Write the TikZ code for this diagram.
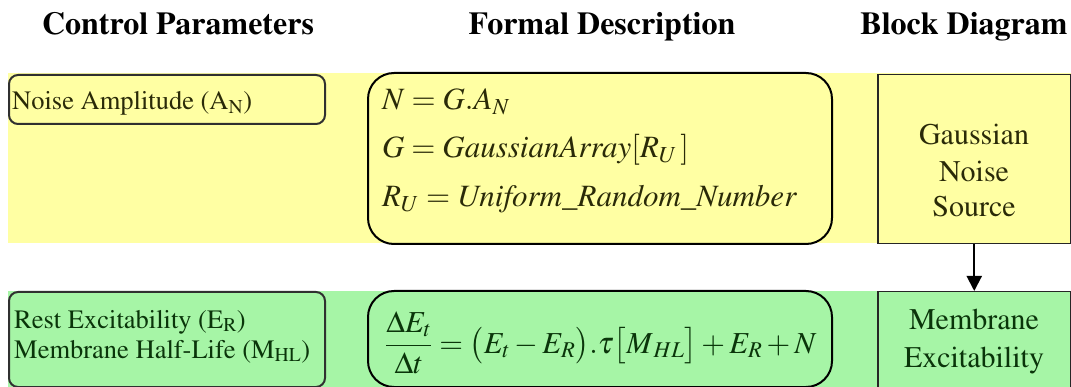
\documentclass[tikz,border=0pt]{standalone}
\usepackage[T1]{fontenc}
\usepackage{mathptmx}
\usetikzlibrary{arrows.meta}
\definecolor{yfill}{HTML}{FFFFA3}
\definecolor{gfill}{HTML}{A6F5A6}
\definecolor{ytext}{HTML}{2A2A08}
\definecolor{gtext}{HTML}{0A350A}
\definecolor{edge}{HTML}{303030}
\tikzset{
  heading/.style={anchor=base, inner sep=0pt, font=\fontsize{32}{38}\selectfont\bfseries},
  parbox/.style={draw=edge, line width=2pt, rounded corners=9pt, inner sep=0pt},
  fdbox/.style={draw=black, line width=2pt, rounded corners=26pt, inner sep=0pt},
  bdbox/.style={draw=black!85, line width=1.5pt, inner sep=0pt},
  ptext/.style={anchor=base west, inner sep=0pt, font=\fontsize{26.5}{30}\selectfont},
  ftext/.style={anchor=base west, inner sep=0pt, font=\fontsize{31}{36}\selectfont},
  etext/.style={anchor=base west, inner sep=0pt, font=\fontsize{30.5}{36}\selectfont},
  btext/.style={anchor=base, inner sep=0pt, font=\fontsize{30}{36}\selectfont},
  flow/.style={line width=2pt, -{Triangle[width=15pt,length=15pt]}}
}
\begin{document}
\begin{tikzpicture}[x=1pt,y=-1pt]
\useasboundingbox (0,0) rectangle (1071,387);
% background bands
\fill[yfill] (8,73) rectangle (1071,243);
\fill[gfill] (8,291) rectangle (1071,387);
% headings
\node[heading] (h1) at (178,35) {Control Parameters};
\node[heading] (h2) at (602,35) {Formal Description};
\node[heading] (h3) at (964,35) {Block Diagram};
% control parameter boxes
\node[parbox, anchor=north west, minimum width=316pt, minimum height=49pt] (cp1) at (8,74) {};
\node[ptext, text=ytext] (cp1a) at (12,110) {Noise Amplitude (A\textsubscript{N})};
\node[parbox, anchor=north west, minimum width=316pt, minimum height=95pt] (cp2) at (8,291) {};
\node[ptext, text=gtext] (cp2a) at (14,328) {Rest Excitability (E\textsubscript{R})};
\node[ptext, text=gtext] (cp2b) at (14,358) {Membrane Half-Life (M\textsubscript{HL})};
% formal description boxes
\node[fdbox, anchor=north west, minimum width=464pt, minimum height=171pt] (fd1) at (367,72) {};
\node[ftext, text=ytext] (fd1a) at (382,110) {$N = G.A_N$};
\node[ftext, text=ytext] (fd1b) at (382,158) {$G = \mathit{GaussianArray}[R_U\,]$};
\node[ftext, text=ytext] (fd1c) at (382,207) {$R_U = \mathit{Uniform\_Random\_Number}$};
\node[fdbox, anchor=north west, minimum width=464pt, minimum height=96pt] (fd2) at (367,290) {};
\node[etext, text=gtext] (fd2a) at (385,353) {$\displaystyle\frac{\Delta E_t}{\Delta t} = \bigl(E_t - E_R\bigr).\tau\bigl[M_{\,HL}\bigr] + E_R + N$};
% block diagram
\node[bdbox, anchor=north west, minimum width=193pt, minimum height=169pt] (bd1) at (877,74) {};
\node[btext, text=ytext] (bd1a) at (974,145) {Gaussian};
\node[btext, text=ytext] (bd1b) at (974,182) {Noise};
\node[btext, text=ytext] (bd1c) at (974,217) {Source};
\node[bdbox, anchor=north west, minimum width=193pt, minimum height=120pt] (bd2) at (877,291) {};
\node[btext, text=gtext] (bd2a) at (974,330) {Membrane};
\node[btext, text=gtext] (bd2b) at (974,367) {Excitability};
\draw[flow] (bd1.south) -- (bd2.north);
\end{tikzpicture}
\end{document}
